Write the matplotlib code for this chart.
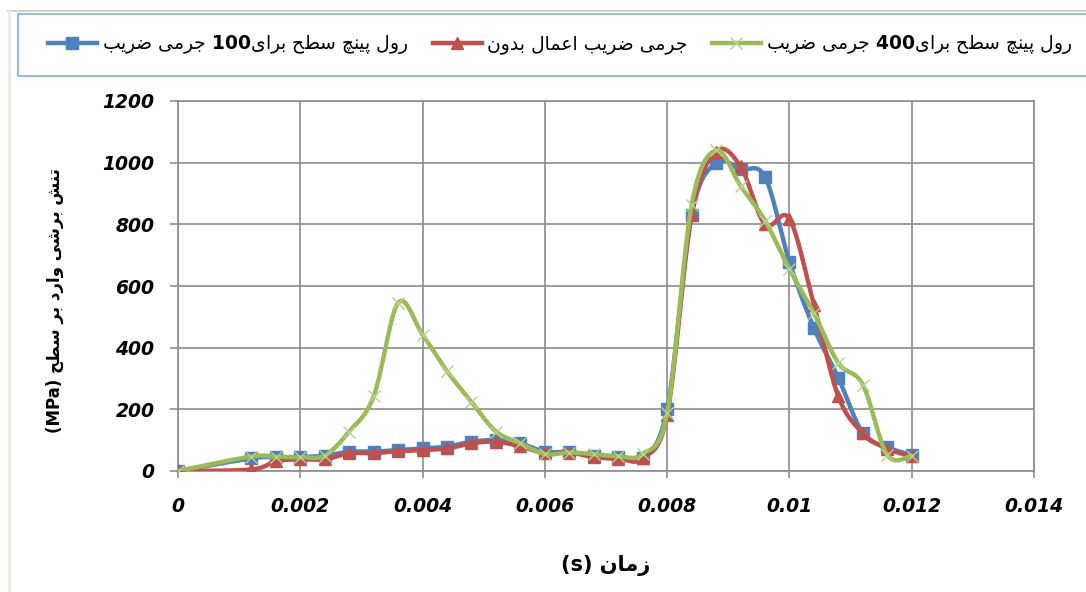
import numpy as np
import matplotlib
matplotlib.use("Agg")
import matplotlib.pyplot as plt
from matplotlib.lines import Line2D
from matplotlib.patches import Rectangle

plt.rcParams['font.family'] = ['DejaVu Sans']
plt.rcParams['mathtext.fontset'] = 'dejavusans'

# time (s)
t = [0, 0.0012, 0.0016, 0.002, 0.0024, 0.0028, 0.0032, 0.0036, 0.004, 0.0044,
     0.0048, 0.0052, 0.0056, 0.006, 0.0064, 0.0068, 0.0072, 0.0076, 0.008,
     0.0084, 0.0088, 0.0092, 0.0096, 0.01, 0.0104, 0.0108, 0.0112, 0.0116, 0.012]
# shear stress (MPa)
s_100 = [0, 41, 45, 45, 50, 62, 63, 68, 73, 79, 95, 100, 90, 62,
         62, 48, 45, 42, 200, 830, 1000, 978, 954, 678, 464, 302, 123, 77, 52]
s_none = [0, 5, 32, 38, 38, 57, 58, 64, 68, 73, 90, 95, 80, 58,
          60, 45, 40, 42, 182, 830, 1036, 988, 800, 818, 540, 242, 123, 72, 48]
s_400 = [0, 47, 46, 45, 50, 128, 242, 545, 442, 324, 224, 128, 90, 55,
         60, 55, 48, 55, 188, 862, 1040, 925, 812, 655, 512, 350, 280, 52, 50]

x_ticks = [0, 0.002, 0.004, 0.006, 0.008, 0.01, 0.012, 0.014]
x_ticklabels = ['0', '0.002', '0.004', '0.006', '0.008', '0.01', '0.012', '0.014']
y_ticks = [0, 200, 400, 600, 800, 1000, 1200]

# minimal Persian shaping (isolated, final, initial, medial)
FORMS = {
    'ا': ('\uFE8D', '\uFE8E', None, None),
    'ب': ('\uFE8F', '\uFE90', '\uFE91', '\uFE92'),
    'پ': ('\uFB56', '\uFB57', '\uFB58', '\uFB59'),
    'ت': ('\uFE95', '\uFE96', '\uFE97', '\uFE98'),
    'ج': ('\uFE9D', '\uFE9E', '\uFE9F', '\uFEA0'),
    'چ': ('\uFB7A', '\uFB7B', '\uFB7C', '\uFB7D'),
    'ح': ('\uFEA1', '\uFEA2', '\uFEA3', '\uFEA4'),
    'د': ('\uFEA9', '\uFEAA', None, None),
    'ر': ('\uFEAD', '\uFEAE', None, None),
    'ز': ('\uFEAF', '\uFEB0', None, None),
    'س': ('\uFEB1', '\uFEB2', '\uFEB3', '\uFEB4'),
    'ش': ('\uFEB5', '\uFEB6', '\uFEB7', '\uFEB8'),
    'ض': ('\uFEBD', '\uFEBE', '\uFEBF', '\uFEC0'),
    'ط': ('\uFEC1', '\uFEC2', '\uFEC3', '\uFEC4'),
    'ع': ('\uFEC9', '\uFECA', '\uFECB', '\uFECC'),
    'ل': ('\uFEDD', '\uFEDE', '\uFEDF', '\uFEE0'),
    'م': ('\uFEE1', '\uFEE2', '\uFEE3', '\uFEE4'),
    'ن': ('\uFEE5', '\uFEE6', '\uFEE7', '\uFEE8'),
    'و': ('\uFEED', '\uFEEE', None, None),
    'ی': ('\uFBFC', '\uFBFD', '\uFBFE', '\uFBFF'),
}


def shape_word(w):
    if not any(c in FORMS for c in w):
        return w
    out = []
    for i, c in enumerate(w):
        if c not in FORMS:
            out.append(c)
            continue
        prev = w[i - 1] if i > 0 else None
        nxt = w[i + 1] if i + 1 < len(w) else None
        jp = prev in FORMS and FORMS[prev][2] is not None
        jn = nxt in FORMS and FORMS[c][2] is not None
        iso, fin, ini, med = FORMS[c]
        out.append(med if jp and jn else fin if jp else ini if jn else iso)
    return ''.join(reversed(out))


def rtl(text):
    return ' '.join(shape_word(w) for w in reversed(text.split()))


def words(text):
    # words kept in left-to-right order, as drawn in the original legend
    return ' '.join(shape_word(w) for w in text.split())


lab_100 = words('ضریب جرمی') + r' $\mathbf{100}$' + words('برای سطح پینچ رول')
lab_none = words('بدون اعمال ضریب جرمی')
lab_400 = words('ضریب جرمی') + r' $\mathbf{400}$' + words('برای سطح پینچ رول')


def smooth(x, y, n=24):
    # Excel style smoothed line (cardinal bezier)
    x = np.asarray(x, float)
    y = np.asarray(y, float)
    p = np.column_stack([x, y])
    p = np.vstack([p[0], p, p[-1]])
    xs, ys = [], []
    u = np.linspace(0, 1, n)
    for i in range(1, len(p) - 2):
        p0, p1, p2, p3 = p[i - 1], p[i], p[i + 1], p[i + 2]
        c1 = p1 + (p2 - p0) / 6
        c2 = p2 - (p3 - p1) / 6
        b = ((1 - u) ** 3)[:, None] * p1 + (3 * (1 - u) ** 2 * u)[:, None] * c1 \
            + (3 * (1 - u) * u ** 2)[:, None] * c2 + (u ** 3)[:, None] * p2
        xs.extend(b[:, 0])
        ys.extend(b[:, 1])
    return xs, ys


fig = plt.figure(figsize=(10.86, 5.92), dpi=100)
ax = fig.add_axes([178 / 1086, 1 - 471 / 592, (1034 - 178) / 1086, 370 / 592])

series = [
    (s_100, '#4F81BD', 's', 8, lab_100),
    (s_none, '#C0504D', '^', 9, lab_none),
    (s_400, '#9BBB59', 'x', 9, lab_400),
]
handles = []
for vals, col, mk, ms, lab in series:
    sx, sy = smooth(t, vals)
    ax.plot(sx, sy, color=col, lw=3.2, solid_capstyle='round', zorder=3)
    if mk == 'x':
        ax.plot(t, vals, ls='none', marker='x', ms=ms, mew=1.0, color='#B5D38A', zorder=4)
    else:
        ax.plot(t, vals, ls='none', marker=mk, ms=ms, color=col, mec=col, zorder=3)
    handles.append(Line2D([], [], color=col, lw=3.2, marker=mk, ms=ms,
                          mec='#B5D38A' if mk == 'x' else col,
                          mew=1.0 if mk == 'x' else 1, label=lab))

ax.set_xlim(0, 0.014)
ax.set_ylim(0, 1200)
ax.set_xticks(x_ticks)
ax.set_xticklabels(x_ticklabels)
ax.set_yticks(y_ticks)
ax.grid(True, color='#8C8C8C', lw=1.2)
ax.set_axisbelow(True)
for sp in ax.spines.values():
    sp.set_color('#8C8C8C')
    sp.set_linewidth(1.2)
ax.tick_params(axis='y', length=6, width=1.2, color='#8C8C8C', pad=11)
ax.tick_params(axis='x', length=5, width=1.2, color='#8C8C8C', pad=14)
for lb in ax.get_xticklabels() + ax.get_yticklabels():
    lb.set_fontsize(13.5)
    lb.set_fontweight('bold')
    lb.set_fontstyle('italic')

ax.set_xlabel(rtl('زمان (s)'), fontsize=15, fontweight='bold', labelpad=28)
ax.set_ylabel(rtl('تنش برشی وارد بر سطح (MPa)'), fontsize=12, fontweight='bold')
ax.yaxis.set_label_coords(-0.133, 0.46)

# chart frame pieces and legend box
fig.add_artist(Line2D([8 / 1086, 1], [1 - 11 / 592, 1 - 11 / 592], color='#C8C8C8', lw=1.2))
fig.add_artist(Line2D([9 / 1086, 9 / 1086], [0, 1 - 11 / 592], color='#EEE9DF', lw=2))
fig.add_artist(Rectangle((18 / 1086, 1 - 76 / 592), 1.0, 62 / 592, fill=False,
                         ec='#8EB4E3', lw=1.3, transform=fig.transFigure))
fig.legend(handles=handles, loc='center left', bbox_to_anchor=(31 / 1086, 1 - 45 / 592),
           ncol=3, frameon=False, fontsize=13.5, handlelength=2.6, columnspacing=1.3,
           handletextpad=0.3)

fig.savefig('out.png', dpi=100)
